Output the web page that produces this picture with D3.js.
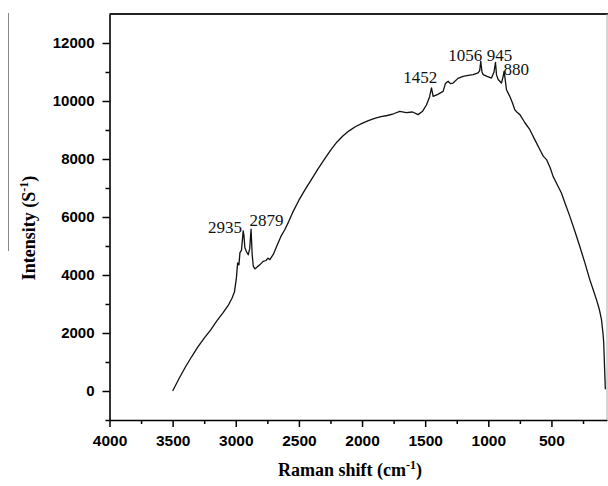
<!DOCTYPE html>
<html>
<head>
<meta charset="utf-8">
<script src="https://cdn.jsdelivr.net/npm/d3@7"></script>
<style>
  body { margin: 0; background: #fff; }
  svg { display: block; }
</style>
</head>
<body>
<svg width="608" height="486"></svg>
<script>
// Raman spectrum
const shift = [3500, 3450, 3400, 3350, 3300, 3250, 3200, 3150, 3100, 3060, 3030, 3010, 2995, 2985, 2975, 2967, 2955, 2941, 2935, 2928,
  2915, 2901, 2890, 2879, 2870, 2861, 2848, 2830, 2810, 2783, 2760, 2745, 2730, 2703, 2680, 2664, 2640, 2611, 2580, 2550,
  2500, 2450, 2400, 2350, 2300, 2250, 2200, 2150, 2100, 2050, 2000, 1950, 1900, 1850, 1800, 1750, 1701, 1650, 1600, 1556,
  1520, 1489, 1465, 1450, 1437, 1400, 1358, 1340, 1318, 1300, 1279, 1240, 1200, 1160, 1120, 1081, 1068, 1060, 1050, 1041,
  1010, 975, 955, 943, 935, 922, 896, 885, 875, 865, 856, 830, 810, 790, 770, 750, 710, 671, 630, 592,
  565, 539, 510, 487, 455, 421, 390, 355, 315, 276, 235, 197, 170, 144, 120, 104, 92, 86, 80, 73];
const intensity = [0, 420, 820, 1180, 1520, 1820, 2100, 2420, 2700, 2950, 3200, 3420, 3900, 4420, 4350, 4770, 4850, 5520, 5350, 4940,
  4800, 4700, 4900, 5580, 4700, 4300, 4210, 4280, 4350, 4470, 4500, 4580, 4530, 4710, 4950, 5110, 5350, 5570, 5850, 6150,
  6580, 6950, 7300, 7650, 7980, 8300, 8580, 8800, 8980, 9120, 9230, 9320, 9400, 9460, 9500, 9560, 9640, 9600, 9620, 9530,
  9650, 9870, 10150, 10450, 10160, 10230, 10330, 10600, 10680, 10600, 10620, 10780, 10850, 10880, 10910, 10970, 11050, 11370, 11000, 10910,
  10850, 10790, 11000, 11330, 10900, 10740, 10620, 10800, 11020, 10700, 10390, 10160, 9950, 9700, 9600, 9530, 9250, 9010, 8650, 8330,
  8100, 7980, 7700, 7400, 7120, 6830, 6450, 6030, 5520, 4990, 4420, 3850, 3500, 3160, 2800, 2470, 2000, 1670, 900, 60];

const peakLabels = ["2935", "2879", "1452", "1056", "945", "880"];
const peakShift = [2935, 2879, 1452, 1056, 945, 880];
const peakText = [5460, 5700, 10630, 11390, 11390, 10900];

const xTicks = [4000, 3500, 3000, 2500, 2000, 1500, 1000, 500];
const yTicks = [0, 2000, 4000, 6000, 8000, 10000, 12000];

const svg = d3.select('svg');
const width = +svg.attr('width');
const height = +svg.attr('height');
const margin = { top: 14, right: 1, bottom: 66, left: 109.5 };

const x = d3.scaleLinear()
  .domain([4000, 60])
  .range([margin.left, width - margin.right]);
const y = d3.scaleLinear()
  .domain([-1000, 13000])
  .range([height - margin.bottom, margin.top]);

const tickFont = '"Liberation Sans", Arial, sans-serif';
const serif = '"Liberation Serif", "Times New Roman", serif';

// scan artefact line at far left
svg.append('line')
  .attr('x1', 8.5).attr('x2', 8.5)
  .attr('y1', 13).attr('y2', 251)
  .attr('stroke', '#888').attr('stroke-width', 1);

// minor ticks
const xMinor = d3.range(3750, 0, -500);
svg.append('g')
  .attr('transform', `translate(0,${y(-1000)})`)
  .call(d3.axisBottom(x).tickValues(xMinor).tickSize(4).tickFormat(''))
  .call(g => g.select('.domain').remove())
  .selectAll('line').attr('stroke-width', 1.5);
const yMinor = d3.range(-1000, 13000, 2000);
svg.append('g')
  .attr('transform', `translate(${x(4000)},0)`)
  .call(d3.axisLeft(y).tickValues(yMinor).tickSize(4).tickFormat(''))
  .call(g => g.select('.domain').remove())
  .selectAll('line').attr('stroke-width', 1.5);

// major axes
const xag = svg.append('g')
  .attr('transform', `translate(0,${y(-1000)})`)
  .call(d3.axisBottom(x).tickValues(xTicks).tickSize(7).tickSizeOuter(0).tickPadding(8).tickFormat(d3.format('d')));
xag.select('.domain').attr('stroke-width', 1.6);
xag.selectAll('line').attr('stroke-width', 1.5);
xag.selectAll('text')
  .attr('font-family', tickFont).attr('font-weight', 'bold').attr('font-size', 15.5).attr('fill', '#000');

const yag = svg.append('g')
  .attr('transform', `translate(${x(4000)},0)`)
  .call(d3.axisLeft(y).tickValues(yTicks).tickSize(7).tickSizeOuter(0).tickPadding(8).tickFormat(d3.format('d')));
yag.select('.domain').attr('stroke-width', 1.6);
yag.selectAll('line').attr('stroke-width', 1.5);
yag.selectAll('text')
  .attr('font-family', tickFont).attr('font-weight', 'bold').attr('font-size', 15).attr('fill', '#000');

// top and right frame
svg.append('line')
  .attr('x1', x(4000)).attr('x2', width)
  .attr('y1', y(13000)).attr('y2', y(13000))
  .attr('stroke', '#222').attr('stroke-width', 2);
svg.append('line')
  .attr('x1', width - 1).attr('x2', width - 1)
  .attr('y1', y(13000)).attr('y2', y(-1000))
  .attr('stroke', '#aaa').attr('stroke-width', 1);

// spectrum
const line = d3.line()
  .x((d, i) => x(shift[i]))
  .y((d, i) => y(intensity[i]));
svg.append('path')
  .datum(shift)
  .attr('d', line)
  .attr('fill', 'none')
  .attr('stroke', '#111')
  .attr('stroke-width', 1.3)
  .attr('stroke-linejoin', 'round');

// peak labels
svg.append('g').selectAll('text')
  .data(peakLabels)
  .enter()
  .append('text')
  .attr('x', (d, i) => x(peakShift[i]))
  .attr('y', (d, i) => y(peakText[i]))
  .attr('dx', (d, i) => [-36, -1.5, -28, -33, -8.5, 0][i])
  .attr('font-family', serif)
  .attr('font-size', 17)
  .attr('fill', '#111')
  .text(d => d);

// axis titles
const xt = svg.append('text')
  .attr('x', 350).attr('y', 476)
  .attr('text-anchor', 'middle')
  .attr('font-family', serif).attr('font-weight', 'bold').attr('font-size', 18);
xt.append('tspan').text('Raman shift (cm');
xt.append('tspan').attr('dy', -7).attr('font-size', 12).text('-1');
xt.append('tspan').attr('dy', 7).text(')');

const yt = svg.append('text')
  .attr('transform', 'translate(35,228) rotate(-90)')
  .attr('text-anchor', 'middle')
  .attr('font-family', serif).attr('font-weight', 'bold').attr('font-size', 18);
yt.append('tspan').text('Intensity (S');
yt.append('tspan').attr('dy', -7).attr('font-size', 12).text('-1');
yt.append('tspan').attr('dy', 7).text(')');
</script>
</body>
</html>
